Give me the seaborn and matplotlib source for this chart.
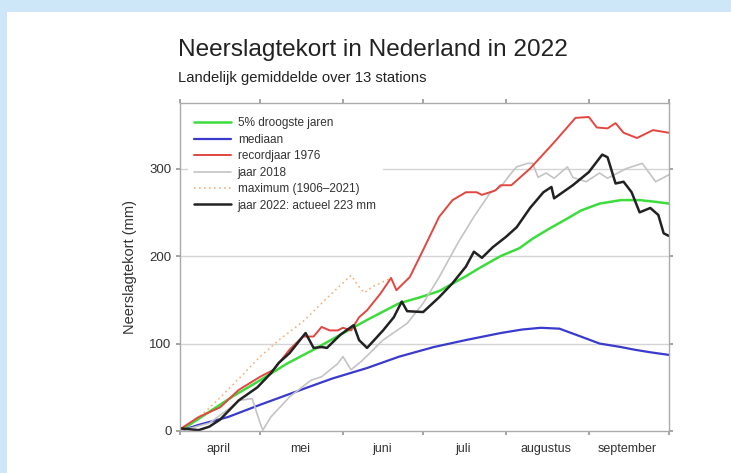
import matplotlib
matplotlib.use("Agg")
import matplotlib.pyplot as plt
from matplotlib.patches import Rectangle
import seaborn as sns

# day 0 = 1 april, day 183 = 30 september
month_edges = [0, 30, 61, 91, 122, 153, 183]
month_mids = [14.5, 45, 75.5, 106, 137, 167.5]
month_labels = ["april", "mei", "juni", "juli", "augustus", "september"]
y_ticks = [0, 100, 200, 300]

# 5% droogste jaren
green_days = [0, 10, 20, 30, 40, 50, 60, 70, 82, 90, 97, 107, 113, 120, 127, 132, 138, 145, 150, 157, 165, 172, 178, 183]
green_vals = [0, 20, 40, 58, 77, 93, 110, 127, 146, 153, 160, 177, 188, 200, 209, 220, 231, 243, 252, 260, 264, 264, 262, 260]

# mediaan
blue_days = [0, 7, 18, 30, 47, 57, 70, 82, 95, 107, 120, 128, 135, 142, 150, 157, 165, 170, 176, 183]
blue_vals = [0, 7, 16, 30, 49, 60, 72, 85, 96, 104, 112, 116, 118, 117, 108, 100, 96, 93, 90, 87]

# recordjaar 1976
red_days = [0, 7, 15, 22, 30, 35, 41, 46, 50, 53, 56, 59, 61, 64, 67, 70, 75, 79, 81, 86, 91, 97, 102,
            107, 111, 113, 118, 120, 124, 131, 140, 148, 153, 156, 160, 163, 166, 171, 177, 183]
red_vals = [2, 16, 27, 47, 62, 70, 93, 108, 108, 119, 115, 115, 118, 115, 130, 138, 157, 175, 161, 176, 207, 245, 264,
            273, 273, 270, 275, 281, 281, 300, 330, 358, 359, 347, 346, 352, 341, 335, 344, 341]

# jaar 2018
grey_days = [0, 11, 19, 22, 27, 30, 31, 34, 41, 49, 53, 59, 61, 64, 68, 76, 85, 91, 97, 104, 110, 116, 120,
             124, 126, 130, 132, 134, 137, 140, 145, 147, 152, 157, 160, 167, 173, 178, 183]
grey_vals = [0, 9, 27, 35, 37, 9, 1, 16, 39, 58, 62, 77, 85, 70, 80, 104, 123, 146, 176, 215, 245, 272, 279,
             295, 302, 306, 306, 290, 295, 289, 302, 290, 285, 295, 289, 300, 306, 285, 293]

# maximum (1906-2021), further on it coincides with 1976
max_days = [0, 7, 14, 24, 30, 37, 46, 55, 64, 67, 69, 72, 75, 79]
max_vals = [0, 15, 35, 66, 85, 104, 125, 152, 178, 165, 158, 165, 169, 175]

# jaar 2022
black_days = [0, 7, 11, 15, 22, 29, 34, 37, 41, 47, 50, 53, 55, 60, 65, 67, 70, 76, 80, 83, 85, 91, 97, 102,
              107, 110, 113, 117, 122, 126, 131, 136, 139, 140, 147, 153, 158, 160, 163, 166, 169, 172, 176,
              179, 181, 183]
black_vals = [3, 1, 5, 13, 35, 50, 66, 78, 89, 112, 95, 96, 95, 110, 121, 104, 95, 115, 130, 148, 137, 136, 153, 169,
              188, 205, 198, 210, 222, 233, 255, 273, 279, 266, 281, 296, 316, 313, 283, 285, 273, 250, 255,
              247, 226, 223]

sns.set_theme(style="white")
plt.rcParams["font.family"] = ["Liberation Sans", "DejaVu Sans"]

fig = plt.figure(figsize=(7.31, 4.73), dpi=100, facecolor="#cde7f8")
fig.add_artist(Rectangle((7 / 731, 0), 1, 1 - 12 / 473, transform=fig.transFigure,
                         facecolor="white", edgecolor="none", zorder=-1))
ax = fig.add_axes([0.2462, 0.0888, 0.669, 0.6934])

sns.lineplot(x=max_days, y=max_vals, ax=ax, color="#f5b27a", lw=1.2, linestyle=(0, (1, 2)),
             label="maximum (1906\u20132021)")
sns.lineplot(x=green_days, y=green_vals, ax=ax, color="#3ddc3d", lw=1.8, label="5% droogste jaren")
sns.lineplot(x=blue_days, y=blue_vals, ax=ax, color="#3a3acc", lw=1.6, label="mediaan")
sns.lineplot(x=grey_days, y=grey_vals, ax=ax, color="#c4c4c4", lw=1.2, label="jaar 2018")
sns.lineplot(x=red_days, y=red_vals, ax=ax, color="#e2463f", lw=1.4, label="recordjaar 1976")
sns.lineplot(x=black_days, y=black_vals, ax=ax, color="#222222", lw=1.8,
             label="jaar 2022: actueel 223 mm")

ax.set_xlim(0, 183)
ax.set_ylim(0, 375)
ax.set_xticks(month_edges)
ax.set_xticklabels([])
ax.set_xticks(month_mids, minor=True)
ax.set_xticklabels(month_labels, minor=True, fontsize=9, color="#333333")
ax.set_yticks(y_ticks)
ax.set_yticklabels([str(v) for v in y_ticks], fontsize=9.5, color="#333333")
ax.tick_params(axis="x", which="major", direction="out", length=3, color="#999999",
               top=True, bottom=True)
ax.tick_params(axis="x", which="minor", length=0, pad=9)
ax.tick_params(axis="y", which="major", direction="out", length=3, color="#999999",
               left=True, right=True, pad=3)
for y in y_ticks[1:]:
    ax.axhline(y, color="#d4d4d4", lw=1, zorder=0)
for s in ax.spines.values():
    s.set_color("#aaaaaa")
    s.set_linewidth(1)

ax.set_xlabel("")
ax.set_ylabel("Neerslagtekort (mm)", fontsize=10.5, color="#333333", labelpad=9)

handles, labels = ax.get_legend_handles_labels()
order = ["5% droogste jaren", "mediaan", "recordjaar 1976", "jaar 2018",
         "maximum (1906\u20132021)", "jaar 2022: actueel 223 mm"]
hmap = dict(zip(labels, handles))
leg = ax.legend([hmap[k] for k in order], order, loc="upper left", fontsize=8.5,
                frameon=True, facecolor="white", edgecolor="none", framealpha=1,
                fancybox=False, handlelength=3.1, handletextpad=0.6, labelspacing=0.38,
                borderaxespad=0.7, borderpad=0.5)
for t in leg.get_texts():
    t.set_color("#333333")

fig.text(178 / 731, 1 - 50 / 473, "Neerslagtekort in Nederland in 2022", fontsize=17.6,
         color="#222222", va="center", ha="left")
fig.text(178 / 731, 1 - 78 / 473, "Landelijk gemiddelde over 13 stations", fontsize=10.6,
         color="#222222", va="center", ha="left")

fig.savefig("out.png", dpi=100, facecolor=fig.get_facecolor())
